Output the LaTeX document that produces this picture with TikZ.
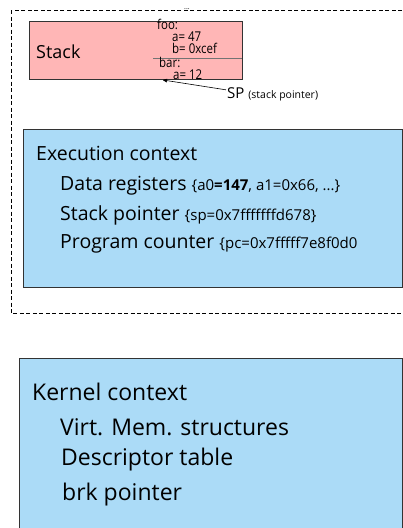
\documentclass[tikz,border=0pt]{standalone}
\usepackage{fontspec}
\setmainfont{Open Sans}
\newfontfamily\narrowfont[FakeStretch=0.85]{Open Sans}
\usetikzlibrary{arrows}
\definecolor{ctxblue}{HTML}{ABDBF7}
\definecolor{stackred}{HTML}{FFB6B6}

\begin{document}
\begin{tikzpicture}[x=1pt,y=-1pt]
	\tikzset{ctxbox/.style={draw=black!80,fill=ctxblue,line width=0.8pt},
		txt/.style={anchor=base west,inner sep=0pt},
		frame/.style={txt,font=\narrowfont\fontsize{13.5}{13.5}\selectfont}}
	
	% Page size
	\useasboundingbox (0,0) rectangle (403,528);
	
	% Dashed process box
	\draw[dashed,dash pattern=on 4pt off 2.5pt,line width=0.8pt] (11,10) rectangle (430,313);
	\node[txt,font=\fontsize{7}{7}\selectfont] (dots) at (184,9) {...};
	
	% Stack
	\draw[draw=black!80,fill=stackred,line width=0.8pt] (29,21) rectangle (242,79);
	\draw[black!55] (153,58) -- (242,58);
	\node[txt,font=\fontsize{18}{18}\selectfont] (stack) at (36,58) {Stack};
	\node[frame] (foo) at (157,29) {foo:};
	\node[frame] (fooa) at (172,41) {a= 47};
	\node[frame] (foob) at (172,53) {b= 0xcef};
	\node[frame] (bar) at (159,67) {bar:};
	\node[frame] (bara) at (173,79) {a= 12};
	
	% Stack pointer
	\node[txt,font=\fontsize{15}{15}\selectfont] (sp) at (227,98) {SP {\fontsize{10.5}{10.5}\selectfont(stack pointer)}};
	\coordinate (sptip) at (163,80);
	\draw[-stealth',line width=0.6pt] (sp.west) ++(-1,-4) -- (sptip);
	
	% Execution context
	\draw[ctxbox] (23,129) rectangle (402,287);
	\node[txt,font=\fontsize{19.5}{19.5}\selectfont] (exec) at (36,160) {Execution context};
	\node[txt,font=\fontsize{19.5}{19.5}\selectfont] (regs) at (60,190) {Data registers {\fontsize{15}{15}\selectfont\{a0\textbf{=147}, a1=0x66, ...\}}};
	\node[txt,font=\fontsize{19.5}{19.5}\selectfont] (spreg) at (60,220) {Stack pointer {\fontsize{15}{15}\selectfont\{sp=0x7fffffffd678\}}};
	\node[txt,font=\fontsize{19.5}{19.5}\selectfont] (pc) at (60,248) {Program counter {\fontsize{15}{15}\selectfont\{pc=0x7fffff7e8f0d0}};
	
	% Kernel context
	\draw[ctxbox] (19,358) rectangle (402,540);
	\node[txt,font=\fontsize{23}{23}\selectfont] (kern) at (32,400) {Kernel context};
	\node[txt,font=\fontsize{23}{23}\selectfont] (vm) at (60,435) {Virt. Mem. structures};
	\node[txt,font=\fontsize{23}{23}\selectfont] (desc) at (61,465) {Descriptor table};
	\node[txt,font=\fontsize{23}{23}\selectfont] (brk) at (62,500) {brk pointer};
\end{tikzpicture}
\end{document}
